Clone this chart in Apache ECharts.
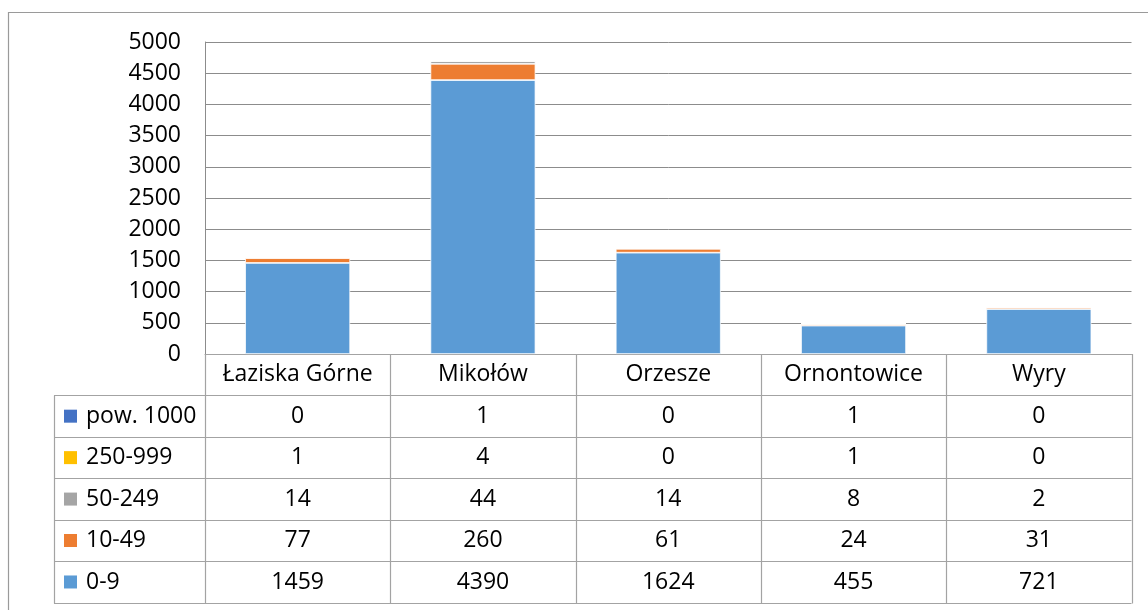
<!DOCTYPE html>
<html>
<head>
<meta charset="utf-8">
<title>Podmioty gospodarcze wg wielkości</title>
<script src="https://cdn.jsdelivr.net/npm/echarts@6/dist/echarts.min.js"></script>
<style>
  html, body { margin: 0; padding: 0; background: #fff; }
  #chart { width: 1148px; height: 610px; }
</style>
</head>
<body>
<div id="chart"></div>
<script>
// data
var categories = ['Łaziska Górne', 'Mikołów', 'Orzesze', 'Ornontowice', 'Wyry']
var size0to9 = [1459, 4390, 1624, 455, 721]
var size10to49 = [77, 260, 61, 24, 31]
var size50to249 = [14, 44, 14, 8, 2]
var size250to999 = [1, 4, 0, 1, 0]
var sizeOver1000 = [0, 1, 0, 1, 0]
var yMin = 0
var yMax = 5000
var yStep = 500

var series = [
  { name: '0-9', data: size0to9, color: '#5B9BD5' },
  { name: '10-49', data: size10to49, color: '#ED7D31' },
  { name: '50-249', data: size50to249, color: '#A5A5A5' },
  { name: '250-999', data: size250to999, color: '#FFC000' },
  { name: 'pow. 1000', data: sizeOver1000, color: '#4472C4' }
]
// table rows go top -> bottom, reverse of the stack
var tableRows = series.slice().reverse()

var FONT = "'Open Sans', 'Liberation Sans', sans-serif"
var FONT_SIZE = 23
var LINE = '#a3a3a3'
var GRID_LINE = '#8c8c8c'

// layout
var gridLeft = 205
var gridRight = 16.5
var gridTop = 42
var axisY = 354
var rowH = 41.45
var tableLeft = 54

var chart = echarts.init(document.getElementById('chart'))

chart.setOption({
  animation: false,
  textStyle: { fontFamily: FONT },
  grid: {
    left: gridLeft,
    right: gridRight,
    top: gridTop,
    height: axisY - gridTop,
    containLabel: false
  },
  xAxis: {
    type: 'category',
    data: categories,
    axisLine: { show: true, lineStyle: { color: LINE, width: 1 } },
    axisTick: { show: false },
    axisLabel: {
      interval: 0, hideOverlap: false,
      fontSize: FONT_SIZE, color: '#000', margin: 9, fontFamily: FONT
    }
  },
  yAxis: {
    type: 'value',
    min: yMin,
    max: yMax,
    interval: yStep,
    axisLine: { show: true, lineStyle: { color: GRID_LINE, width: 1 } },
    axisTick: { show: false },
    axisLabel: {
      fontSize: FONT_SIZE, color: '#000', margin: 24, fontFamily: FONT,
      formatter: function(v) { return String(v) }
    },
    splitLine: { lineStyle: { color: GRID_LINE, width: 1 } }
  },
  legend: { show: false },
  series: series.map(function(s) {
    return {
      name: s.name,
      type: 'bar',
      stack: 'total',
      data: s.data,
      barWidth: 105,
      itemStyle: { color: s.color, borderColor: '#fff', borderWidth: 0.75 }
    }
  })
})

// data table under the axis
function buildTable() {
  var els = []
  var centers = categories.map(function(c, i) {
    return chart.convertToPixel({ xAxisIndex: 0 }, i)
  })
  var colW = centers[1] - centers[0]
  var left = centers[0] - colW / 2
  var right = centers[centers.length - 1] + colW / 2
  var bottom = axisY + rowH * (tableRows.length + 1)

  function line(x1, y1, x2, y2) {
    els.push({
      type: 'line',
      shape: { x1: x1, y1: y1, x2: x2, y2: y2 },
      style: { stroke: LINE, lineWidth: 1.2 },
      silent: true
    })
  }

  // outer frame of the whole chart
  els.push({
    type: 'rect',
    shape: { x: 8.5, y: 12.5, width: 1200, height: 700 },
    style: { fill: null, stroke: '#9a9a9a', lineWidth: 1.2 },
    silent: true
  })

  // horizontal rules
  for (var k = 1; k <= tableRows.length + 1; k++) {
    var y = Math.round(axisY + k * rowH) + 0.5
    line(tableLeft, y, right, y)
  }
  // vertical rules
  line(tableLeft + 0.5, Math.round(axisY + rowH) + 0.5, tableLeft + 0.5, Math.round(bottom) + 0.5)
  for (var j = 0; j <= categories.length; j++) {
    var x = Math.round(left + j * colW) + 0.5
    line(x, axisY, x, Math.round(bottom) + 0.5)
  }

  tableRows.forEach(function(row, r) {
    var cy = axisY + rowH * (r + 1) + rowH / 2
    // legend key
    els.push({
      type: 'rect',
      shape: { x: 64, y: cy - 6.5, width: 13, height: 13 },
      style: { fill: row.color },
      silent: true
    })
    els.push({
      type: 'text',
      x: 86,
      y: cy,
      style: {
        text: row.name, font: FONT_SIZE + 'px ' + FONT, fill: '#000',
        align: 'left', verticalAlign: 'middle'
      },
      silent: true
    })
    row.data.forEach(function(v, i) {
      els.push({
        type: 'text',
        x: centers[i],
        y: cy,
        style: {
          text: String(v), font: FONT_SIZE + 'px ' + FONT, fill: '#000',
          align: 'center', verticalAlign: 'middle'
        },
        silent: true
      })
    })
  })
  return els
}

chart.setOption({ graphic: buildTable() })
</script>
</body>
</html>
